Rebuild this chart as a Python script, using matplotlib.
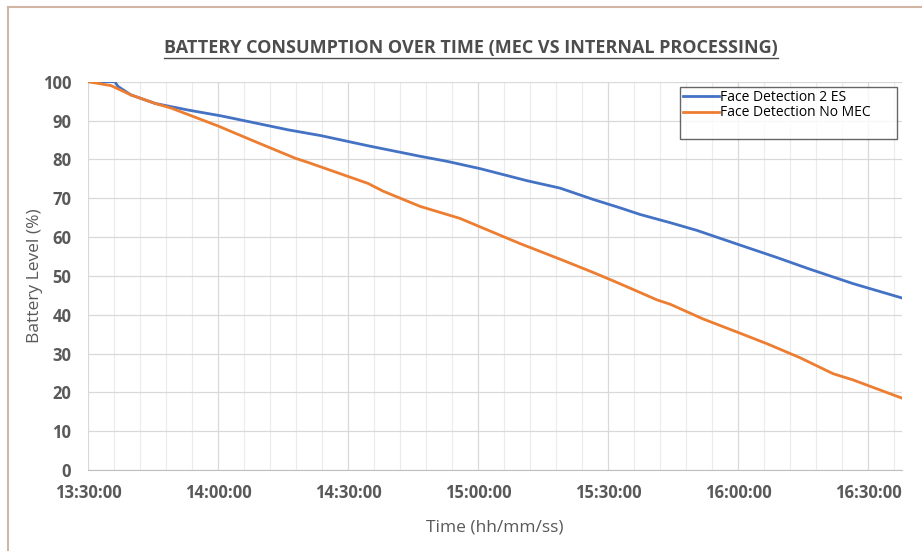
import matplotlib
matplotlib.use('Agg')
import matplotlib.pyplot as plt
from matplotlib.lines import Line2D

plt.rcParams['font.family'] = ['Open Sans', 'DejaVu Sans']

# --- DATA (minutes after 13:30:00) ---
tick_labels = ['13:30:00', '14:00:00', '14:30:00', '15:00:00', '15:30:00', '16:00:00', '16:30:00']
tick_minutes = [0, 30, 60, 90, 120, 150, 180]

es_minutes = [0, 6.2, 6.9, 9.9, 15.5, 23.1, 30.7, 34.6, 46.2, 53.8, 64.6, 76.6, 82.8, 90.5,
              101.3, 108.9, 116.5, 122.8, 127.4, 134.3, 140.5, 150.5, 159.0, 166.6, 176.5, 187.8]
es_level = [100, 100, 98.8, 96.6, 94.4, 92.7, 91.2, 90.3, 87.6, 86.1, 83.5, 80.8, 79.5, 77.6,
            74.5, 72.6, 69.7, 67.5, 65.8, 63.7, 61.7, 57.9, 54.7, 51.7, 48.0, 44.3]

nomec_minutes = [0, 5.3, 9.9, 15.5, 19.2, 30.0, 38.5, 47.8, 50.8, 64.6, 68.1, 76.6, 85.8, 90.5,
                 99.7, 108.9, 116.5, 121.2, 127.4, 131.3, 134.3, 141.9, 150.5, 156.7, 164.3,
                 171.9, 176.5, 187.8]
nomec_level = [100, 99, 96.6, 94.4, 93.2, 88.6, 84.6, 80.3, 79.2, 73.8, 71.8, 67.9, 64.8, 62.6,
               58.3, 54.3, 50.9, 48.7, 45.7, 43.8, 42.7, 38.9, 35.2, 32.5, 28.9, 24.8, 23.2, 18.5]

BLUE = '#4472C4'
ORANGE = '#ED7D31'
GRAY = '#595959'

fig = plt.figure(figsize=(9.22, 5.51), dpi=100)
ax = fig.add_axes([88/922, 1 - 470/551, (902-88)/922, (470-81.7)/551])

ax.plot(es_minutes, es_level, color=BLUE, lw=2.0, label='Face Detection 2 ES', zorder=3)
ax.plot(nomec_minutes, nomec_level, color=ORANGE, lw=2.0, label='Face Detection No MEC', zorder=3)

ax.set_xlim(0, 187.8)
ax.set_ylim(0, 100)
ax.set_yticks(range(0, 101, 10))
ax.set_xticks(tick_minutes)
ax.set_xticklabels(tick_labels)
ax.set_xticks([m for m in range(0, 188, 6) if m % 30 != 0], minor=True)

ax.grid(True, which='major', color='#D9D9D9', lw=0.9)
ax.grid(True, which='minor', axis='x', color='#EBEBEB', lw=0.8)
ax.set_axisbelow(True)
ax.tick_params(which='both', length=0)
ax.tick_params(axis='x', pad=10)
ax.tick_params(axis='y', pad=12)
for lbl in ax.get_xticklabels() + ax.get_yticklabels():
    lbl.set_fontweight('bold')
    lbl.set_fontsize(12)
    lbl.set_color(GRAY)

for s in ['top', 'right', 'left']:
    ax.spines[s].set_visible(False)
ax.spines['bottom'].set_color('#BFBFBF')

ax.set_ylabel('Battery Level (%)', fontsize=12.5, color=GRAY, labelpad=0)
ax.set_xlabel('Time (hh/mm/ss)', fontsize=12.5, color=GRAY, labelpad=13)

# legend with an empty third row, like the original box
blank = Line2D([], [], color='none')
handles, labels = ax.get_legend_handles_labels()
leg = fig.legend(handles + [blank], labels + [''], loc='upper left',
                 bbox_to_anchor=(680/922, 1 - 87/551, 217/922, 0.0), mode='expand',
                 borderaxespad=0, prop={'family': ['Open Sans', 'DejaVu Sans'], 'size': 10},
                 frameon=True, fancybox=False, handlelength=2.6,
                 handletextpad=0.05, labelspacing=0.05, borderpad=0.2)
leg.get_frame().set_edgecolor('#404040')
leg.get_frame().set_linewidth(1.0)

title = fig.text(471/922, 1 - 48/551, 'BATTERY CONSUMPTION OVER TIME (MEC VS INTERNAL PROCESSING)',
                 ha='center', va='center', fontsize=13, fontweight='bold', color='#4D4D4D')

# underline the title
fig.canvas.draw()
bb = title.get_window_extent().transformed(fig.transFigure.inverted())
fig.add_artist(Line2D([bb.x0, bb.x1], [bb.y0 - 0.002, bb.y0 - 0.002], color='#4D4D4D', lw=1.0,
                      transform=fig.transFigure))

# outer frame edges
fig.add_artist(Line2D([8/922, 8/922], [0, 1 - 7/551], color='#D2B4A4', lw=1.5, transform=fig.transFigure))
fig.add_artist(Line2D([8/922, 1], [1 - 7/551, 1 - 7/551], color='#D2B4A4', lw=1.5, transform=fig.transFigure))

fig.savefig('out.png', dpi=100)
